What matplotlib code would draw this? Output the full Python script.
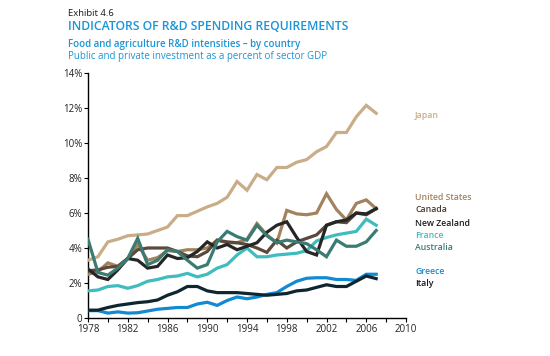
import matplotlib
matplotlib.use("Agg")
import matplotlib.pyplot as plt
import numpy as np

years = list(range(1978, 2008))

japan = [3.3, 3.5, 4.35, 4.5, 4.7, 4.75, 4.8, 5.0, 5.2, 5.85, 5.85, 6.1, 6.35, 6.55, 6.9, 7.8, 7.3, 8.2, 7.9, 8.6, 8.6, 8.9, 9.05, 9.5, 9.8, 10.6, 10.6, 11.5, 12.15, 11.7]
united_states = [2.5, 2.65, 3.15, 2.95, 3.4, 4.2, 3.3, 3.45, 3.85, 3.8, 3.9, 3.9, 4.0, 4.45, 4.3, 4.3, 4.5, 5.4, 4.75, 4.3, 6.15, 5.95, 5.9, 6.0, 7.1, 6.2, 5.6, 6.55, 6.75, 6.25]
canada = [2.7, 2.75, 2.9, 2.95, 3.4, 3.9, 4.0, 4.0, 4.0, 3.8, 3.55, 3.5, 3.8, 4.45, 4.35, 4.3, 4.2, 4.0, 3.75, 4.45, 4.0, 4.35, 4.55, 4.75, 5.3, 5.5, 5.45, 6.0, 5.9, 6.25]
new_zealand = [2.8, 2.35, 2.2, 2.75, 3.4, 3.3, 2.85, 2.95, 3.6, 3.4, 3.45, 3.8, 4.35, 4.0, 4.2, 3.9, 4.1, 4.3, 4.9, 5.3, 5.5, 4.6, 3.8, 3.6, 5.3, 5.5, 5.6, 6.0, 5.95, 6.25]
france = [1.55, 1.6, 1.8, 1.85, 1.7, 1.85, 2.1, 2.2, 2.35, 2.4, 2.55, 2.35, 2.5, 2.85, 3.05, 3.6, 4.0, 3.5, 3.5, 3.6, 3.65, 3.7, 3.85, 4.4, 4.6, 4.75, 4.85, 4.95, 5.65, 5.3]
australia = [4.5, 2.6, 2.45, 2.85, 3.4, 4.55, 3.05, 3.3, 3.9, 3.8, 3.3, 2.85, 3.05, 4.35, 4.95, 4.65, 4.45, 5.3, 4.7, 4.3, 4.45, 4.35, 4.25, 3.9, 3.5, 4.45, 4.1, 4.1, 4.35, 5.0]
greece = [0.42, 0.42, 0.28, 0.35, 0.28, 0.3, 0.4, 0.5, 0.55, 0.6, 0.6, 0.8, 0.9, 0.72, 1.0, 1.2, 1.1, 1.2, 1.35, 1.45, 1.8, 2.1, 2.27, 2.3, 2.3, 2.2, 2.2, 2.15, 2.5, 2.5]
italy = [0.45, 0.45, 0.6, 0.72, 0.8, 0.88, 0.93, 1.03, 1.3, 1.5, 1.8, 1.8, 1.55, 1.45, 1.45, 1.45, 1.4, 1.35, 1.3, 1.35, 1.4, 1.55, 1.6, 1.75, 1.9, 1.8, 1.8, 2.1, 2.4, 2.25]

series_names = ["Japan", "United States", "Canada", "New Zealand", "France", "Australia", "Greece", "Italy"]
series_values = [japan, united_states, canada, new_zealand, france, australia, greece, italy]
colors = ["#c9ad88", "#a3825e", "#5b4a3b", "#262626", "#3fbcbf", "#3b7c72", "#1289d2", "#0d2630"]
label_colors = ["#c9ad88", "#a3825e", "#4a3b2e", "#1c1c1c", "#3fbcbf", "#3b7c72", "#1289d2", "#1a1a1a"]
label_y = [115, 197, 210, 223, 235, 248, 272, 284]  # pixel rows

ytick_vals = [0, 2, 4, 6, 8, 10, 12, 14]
ytick_labels = ["0", "2%", "4%", "6%", "8%", "10%", "12%", "14%"]
xtick_vals = [1978, 1982, 1986, 1990, 1994, 1998, 2002, 2006, 2010]

W, H = 550, 356
fig = plt.figure(figsize=(W / 100, H / 100), dpi=100)
plt.rcParams['font.family'] = ['Open Sans', 'DejaVu Sans']

ax = fig.add_axes([88 / W, 1 - 318 / H, (406 - 88) / W, (318 - 73) / H])

draw_order = [0, 4, 6, 7, 1, 2, 3, 5]
for i in draw_order:
    ax.plot(years, series_values[i], color=colors[i], lw=2.3, solid_joinstyle='miter', zorder=3)

ax.set_xlim(1978, 2010)
ax.set_ylim(0, 14)
ax.set_yticks(ytick_vals)
ax.set_yticklabels(ytick_labels)
ax.set_xticks(xtick_vals)
ax.set_xticklabels([str(v) for v in xtick_vals])
ax.set_xticks(list(range(1978, 2011, 2)), minor=True)
for s in ["top", "right"]:
    ax.spines[s].set_visible(False)
for s in ["left", "bottom"]:
    ax.spines[s].set_linewidth(1.0)
    ax.spines[s].set_color("black")
ax.tick_params(axis='both', labelsize=7, colors="black", labelcolor="#222222", length=3, width=0.8, pad=1.5)
ax.tick_params(axis='x', which='minor', length=3, width=0.8)
ax.tick_params(axis='y', pad=1)

for name, c, yp in zip(series_names, label_colors, label_y):
    fig.text(415 / W, 1 - yp / H, name, color=c, fontsize=6.3, fontweight='semibold', va='center', ha='left')

fig.text(68 / W, 1 - 14 / H, "Exhibit 4.6", fontsize=6.8, color="#1a1a1a", va='center')
fig.text(68 / W, 1 - 27 / H, "INDICATORS OF R&D SPENDING REQUIREMENTS", fontsize=8.8, color="#1b95d6", fontweight='semibold', va='center')
fig.text(68 / W, 1 - 45 / H, "Food and agriculture R&D intensities \u2013 by country", fontsize=7, color="#1b95d6", fontweight='semibold', va='center')
fig.text(68 / W, 1 - 56 / H, "Public and private investment as a percent of sector GDP", fontsize=7, color="#1b95d6", va='center')

fig.savefig("out.png", dpi=100)
